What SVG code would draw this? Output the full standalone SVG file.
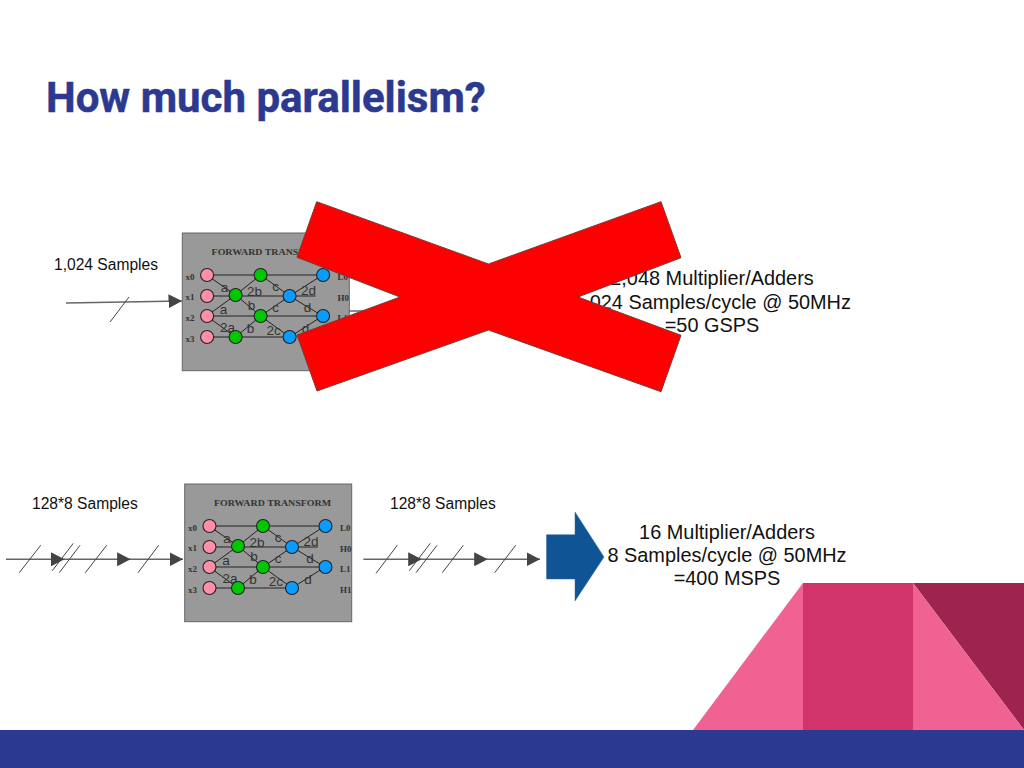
<svg xmlns="http://www.w3.org/2000/svg" width="1024" height="768" viewBox="0 0 1024 768">
<style>
.s{font-family:"Liberation Sans",Arial,sans-serif;fill:#111}
.lab{font-size:15.6px}
.big{font-size:19.9px;text-anchor:middle}
.w{stroke:#666;stroke-width:1.4;fill:none}
.sl{stroke:#444;stroke-width:1;fill:none}
.g{stroke:#222;stroke-width:1;fill:none}
.n{stroke:#222;stroke-width:1.1}
.p{fill:#ff8fa8}.gr{fill:#00c800}.b{fill:#0a9bff}
.t{font-family:"Liberation Serif",serif;font-size:9px;font-weight:bold;fill:#333}
.e{font-family:"Liberation Sans",sans-serif;font-size:13.5px;fill:#333;text-anchor:middle}
</style>
<defs>
<marker id="ah" markerUnits="userSpaceOnUse" markerWidth="14" markerHeight="14" refX="13.5" refY="7" orient="auto"><path d="M0,0L13.5,7L0,14Z" fill="#444"/></marker>
<g id="fft">
<rect x="184.7" y="484" width="167" height="137.7" fill="#999" stroke="#666" stroke-width="1"/>
<text class="t" x="214" y="505.5" textLength="117" lengthAdjust="spacingAndGlyphs">FORWARD TRANSFORM</text>
<path class="g" d="M209 526H325M209 547H292M292 547H318M209 567H325M209 588H292M209 526L238 546L263 526M209 567L238 546L263 567L238 588L209 567M263 526L292 547L263 567L292 588L325 567L292 547L325 526"/>
<g class="e"><text x="227" y="543">a</text><text x="257" y="547">2b</text><text x="278" y="542">c</text><text x="311" y="546">2d</text><text x="226" y="565">a</text><text x="254" y="561">b</text><text x="278" y="563">c</text><text x="310" y="563">d</text><text x="230" y="583">2a</text><text x="253" y="584">b</text><text x="276" y="586">2c</text><text x="308" y="584">d</text></g>
<g class="n"><circle class="p" cx="209.5" cy="526" r="6.5"/><circle class="p" cx="209.5" cy="547" r="6.5"/><circle class="p" cx="209.5" cy="567" r="6.5"/><circle class="p" cx="209.5" cy="588" r="6.5"/>
<circle class="gr" cx="238" cy="546" r="6.5"/><circle class="gr" cx="238" cy="588" r="6.5"/><circle class="gr" cx="263" cy="526" r="6.5"/><circle class="gr" cx="263" cy="567" r="6.5"/>
<circle class="b" cx="292" cy="547" r="6.5"/><circle class="b" cx="292" cy="588" r="6.5"/><circle class="b" cx="325.5" cy="526" r="6.5"/><circle class="b" cx="325.5" cy="567" r="6.5"/></g>
<text class="t" x="188" y="531">x0</text><text class="t" x="188" y="551">x1</text><text class="t" x="188" y="572">x2</text><text class="t" x="188" y="593">x3</text>
<text class="t" x="340" y="531">L0</text><text class="t" x="340" y="552">H0</text><text class="t" x="340" y="572">L1</text><text class="t" x="340" y="593">H1</text>
</g>
</defs>
<rect width="1024" height="768" fill="#fff"/>
<text id="title" x="46" y="112" font-family="Roboto,sans-serif" font-weight="700" font-size="42" fill="#2b3990" stroke="#2b3990" stroke-width="0.5">How much parallelism?</text>
<g id="decor">
<polygon points="913,583 1024,583 1024,730" fill="#9c244e"/>
<polygon points="693,730 803,583 913,583 1024,730" fill="#f06292"/>
<rect x="803" y="583" width="110" height="147" fill="#d1336b"/>
<rect y="730" width="1024" height="38" fill="#2b3990"/>
</g>
<g id="connectors">
<path class="w" d="M66 303L182 301" marker-end="url(#ah)"/>
<path class="w" d="M348 311H420"/>
<path class="sl" d="M110 322L129 297"/>
<path class="w" d="M6 559.3H64.5" marker-end="url(#ah)"/><path class="w" d="M64 559.3H130.6" marker-end="url(#ah)"/><path class="w" d="M130 559.3H183" marker-end="url(#ah)"/>
<path class="sl" d="M19.3 572.7L40.7 545.3M52.3 570.7L73.3 543.3M59.3 572.7L80 545.3M85.3 572.7L106.7 545.3M138 572.7L158.7 545.3"/>
<path class="w" d="M363.3 559.3H421.7" marker-end="url(#ah)"/><path class="w" d="M421 559.3H487.7" marker-end="url(#ah)"/><path class="w" d="M487 559.3H540" marker-end="url(#ah)"/>
<path class="sl" d="M376 573.3L397.3 545.3M409.3 570.7L430.3 543.3M416 572.7L437 545.3M442.3 572.7L463.3 545.3M494.7 572.7L515.7 545.3"/>
</g>
<g id="block-top"><use href="#fft" transform="translate(-2.4,-251)"/></g>
<g id="block-bottom"><use href="#fft"/></g>
<g id="labels">
<text class="s lab" x="54" y="270">1,024 Samples</text>
<text class="s lab" x="32" y="509">128*8 Samples</text>
<text class="s lab" x="390" y="509">128*8 Samples</text>
</g>
<g id="text-top">
<text class="s big" x="712" y="285">2,048 Multiplier/Adders</text>
<text class="s big" x="712" y="309">1,024 Samples/cycle @ 50MHz</text>
<text class="s big" x="712" y="332">=50 GSPS</text>
</g>
<g id="text-bottom">
<text class="s big" x="727" y="539">16 Multiplier/Adders</text>
<text class="s big" x="727" y="562">8 Samples/cycle @ 50MHz</text>
<text class="s big" x="727" y="585">=400 MSPS</text>
</g>
<polygon id="arrow" points="546.5,534.7 575,534.7 575,512 604,557 575,601 575,579 546.5,579" fill="#0f5495" stroke="#3a6a9a" stroke-width="0.5"/>
<polygon id="cross" points="316.7,201.7 488.5,264 661,201.7 681,257.7 578,297 681,335.3 661,391.7 488.5,330 317,391 297,335 400,297 297,257.3" fill="#ff0000" stroke="#7a3a3a" stroke-width="1"/>
</svg>
